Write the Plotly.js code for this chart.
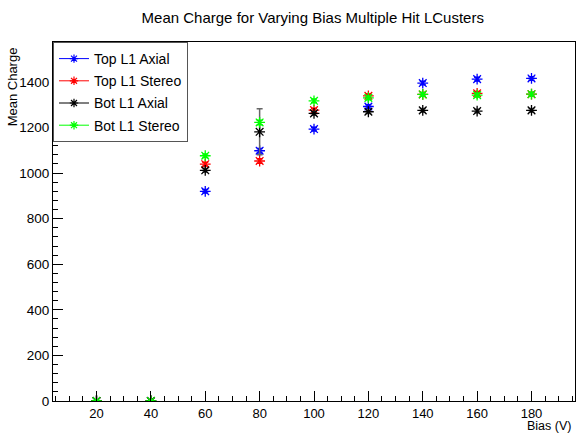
<!DOCTYPE html>
<html><head><meta charset="utf-8">
<script src="https://cdn.plot.ly/plotly-3.0.1.min.js"></script>
<style>body{margin:0;background:#fff}#c{width:576px;height:433px}</style>
</head><body><div id="c"></div>
<script>
const bias = [20, 40, 60, 80, 100, 120, 140, 160, 180];
const topAxial  = [0, 0, 920, 1098, 1193, 1292, 1395, 1412, 1415];
const topStereo = [0, 0, 1039, 1053, 1276, 1339, 1345, 1350, 1346];
const botAxial  = [0, 0, 1012, 1181, 1262, 1269, 1275, 1272, 1275];
const botStereo = [0, 0, 1076, 1222, 1317, 1330, 1345, 1342, 1346];
const errTopAxial  = [0, 0, 8, 10, 8, 8, 8, 8, 8];
const errTopStereo = [0, 0, 8, 10, 8, 8, 8, 8, 8];
const errBotAxial  = [0, 0, 8, 101, 8, 8, 8, 8, 8];
const errBotStereo = [0, 0, 8, 10, 8, 8, 8, 8, 8];
const names = ["Top L1 Axial", "Top L1 Stereo", "Bot L1 Axial", "Bot L1 Stereo"];
const colors = ["#0000ff", "#ff0000", "#000000", "#00ff00"];
const series = [topAxial, topStereo, botAxial, botStereo];
const errs = [errTopAxial, errTopStereo, errBotAxial, errBotStereo];

const traces = [];
series.forEach((s, i) => {
  traces.push({
    x: bias, y: s, type: 'scatter', mode: 'markers', name: names[i],
    showlegend: false, legendgroup: 'g' + i,
    marker: {symbol: 'asterisk-open', size: 9, color: colors[i], line: {color: colors[i], width: 1.3}},
    error_y: {type: 'data', array: errs[i], visible: true, color: i === 2 ? '#666666' : colors[i], thickness: 1.5, width: 3}
  });
});
series.forEach((s, i) => {
  traces.push({
    x: [null], y: [null], type: 'scatter', mode: 'lines+markers', name: names[i],
    legendgroup: 'g' + i,
    line: {color: colors[i], width: 1},
    marker: {symbol: 'asterisk-open', size: 7, color: colors[i], line: {color: colors[i], width: 1.2}}
  });
});

const layout = {
  width: 576, height: 433,
  margin: {l: 53, r: 1, t: 42, b: 32},
  paper_bgcolor: '#fff', plot_bgcolor: '#fff',
  font: {family: 'Liberation Sans, Arial, sans-serif', size: 13.5, color: '#000'},
  title: {text: 'Mean Charge for Varying Bias Multiple Hit LCusters', x: 0.543, xanchor: 'center', y: 0.958, yanchor: 'middle', font: {size: 15}},
  xaxis: {range: [4, 196], dtick: 20, tick0: 0, ticks: 'inside', ticklen: 10, tickcolor: '#000',
    tickfont: {size: 13}, ticklabelstandoff: 0,
    showgrid: false, zeroline: false, showline: true, linecolor: '#000', linewidth: 1, mirror: true,
    minor: {dtick: 5, ticks: 'inside', ticklen: 5, tickcolor: '#000'}},
  yaxis: {range: [0, 1575], dtick: 200, tick0: 0, ticks: 'inside', ticklen: 10, tickcolor: '#000',
    showgrid: false, zeroline: false, showline: true, linecolor: '#000', linewidth: 1, mirror: true,
    minor: {dtick: 40, ticks: 'inside', ticklen: 5, tickcolor: '#000'}},
  legend: {x: 0, y: 1, xanchor: 'left', yanchor: 'top', bgcolor: '#fff', bordercolor: '#555', borderwidth: 1,
    font: {size: 14}, itemwidth: 30, tracegroupgap: 1},
  annotations: [
    {text: 'Mean Charge', xref: 'paper', yref: 'paper', x: -0.078, y: 0.99, xanchor: 'center', yanchor: 'top', textangle: -90, showarrow: false, font: {size: 13}},
    {text: 'Bias (V)', xref: 'paper', yref: 'paper', x: 0.997, y: -0.071, xanchor: 'right', yanchor: 'middle', showarrow: false, font: {size: 12.5}}
  ]
};
Plotly.newPlot('c', traces, layout, {displayModeBar: false, staticPlot: true});
</script></body></html>
